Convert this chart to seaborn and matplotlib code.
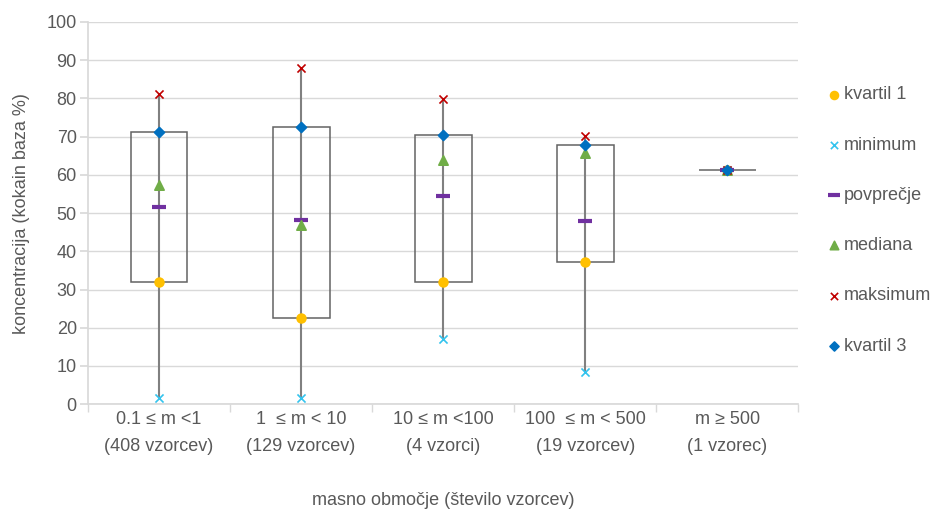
"""
box chart of cocaine concentration by mass range
"""

import matplotlib
matplotlib.use("Agg")
import matplotlib.pyplot as plt
import seaborn as sns
import pandas as pd

categories = [
    "0.1 ≤ m <1\n(408 vzorcev)",
    "1  ≤ m < 10\n(129 vzorcev)",
    "10 ≤ m <100\n(4 vzorci)",
    "100  ≤ m < 500\n(19 vzorcev)",
    "m ≥ 500\n(1 vzorec)",
]
kvartil1 = [32.0, 22.6, 32.1, 37.1, 61.2]
minimum = [1.6, 1.5, 17.0, 8.4, 61.2]
povprecje = [51.5, 48.2, 54.4, 48.0, 61.2]
mediana = [57.4, 47.0, 64.0, 65.8, 61.2]
maksimum = [81.2, 87.9, 79.9, 70.1, 61.2]
kvartil3 = [71.1, 72.4, 70.4, 67.9, 61.2]

sns.set_theme(style="white")
plt.rcParams["font.family"] = ["Liberation Sans", "DejaVu Sans"]

fig = plt.figure(figsize=(9.36, 5.11), dpi=100)
ax = fig.add_axes([0.094, 0.209, 0.759, 0.748])

pos = list(range(len(categories)))
grey_txt = "#595959"
fs = 13

# boxes from kvartil 1 to kvartil 3
ax.bar(pos, [b - a for a, b in zip(kvartil1, kvartil3)], bottom=kvartil1,
       width=0.4, fill=False, edgecolor="#636363", linewidth=1.1, zorder=2)
# whiskers from minimum to maksimum
ax.vlines(pos, minimum, maksimum, color="#808080", linewidth=1.5, zorder=3)

series = [
    ("kvartil 1", kvartil1, "o", "#FFC000", 40),
    ("minimum", minimum, "x", "#33C3EE", 34),
    ("povprečje", povprecje, "_", "#7030A0", 100),
    ("mediana", mediana, "^", "#70AD47", 45),
    ("maksimum", maksimum, "x", "#C00000", 34),
    ("kvartil 3", kvartil3, "D", "#0070C0", 26),
]
for name, vals, mk, col, size in series:
    df = pd.DataFrame({"x": pos, "y": vals})
    lw = 3.0 if mk == "_" else 1.2
    sns.scatterplot(data=df, x="x", y="y", ax=ax, marker=mk, color=col,
                    s=size, linewidth=lw, edgecolor=col if mk not in "x_" else None,
                    label=name, zorder=5)

ax.set_xlim(-0.5, len(categories) - 0.5)
ax.set_ylim(0, 100)
ax.set_yticks(range(0, 101, 10))
ax.set_xticks(pos)
ax.set_xticklabels(categories, linespacing=1.75)
ax.set_xticks([p + 0.5 for p in [-1] + pos], minor=True)
ax.tick_params(axis="x", which="major", length=0, pad=5, labelsize=fs, labelcolor=grey_txt)
ax.tick_params(axis="x", which="minor", length=6, color="#d9d9d9", width=1, bottom=True)
ax.tick_params(axis="y", length=6, color="#d9d9d9", labelsize=fs, labelcolor=grey_txt,
               left=True, pad=2)
ax.yaxis.grid(True, color="#d9d9d9", linewidth=1)
ax.set_axisbelow(True)
for side in ["top", "right"]:
    ax.spines[side].set_visible(False)
for side in ["left", "bottom"]:
    ax.spines[side].set_color("#d9d9d9")

ax.set_xlabel("masno območje (število vzorcev)", fontsize=fs, color=grey_txt, labelpad=27)
ax.set_ylabel("koncentracija (kokain baza %)", fontsize=fs, color=grey_txt, labelpad=12)

handles, labels = ax.get_legend_handles_labels()
ax.legend_.remove()
fig.legend(handles, labels, loc="upper left", bbox_to_anchor=(0.875, 0.845),
           frameon=False, fontsize=fs, labelcolor=grey_txt, labelspacing=1.84,
           handletextpad=0.1, handlelength=0.9, markerscale=0.9, borderaxespad=0)

fig.savefig("out.png", dpi=100)
plt.close(fig)
